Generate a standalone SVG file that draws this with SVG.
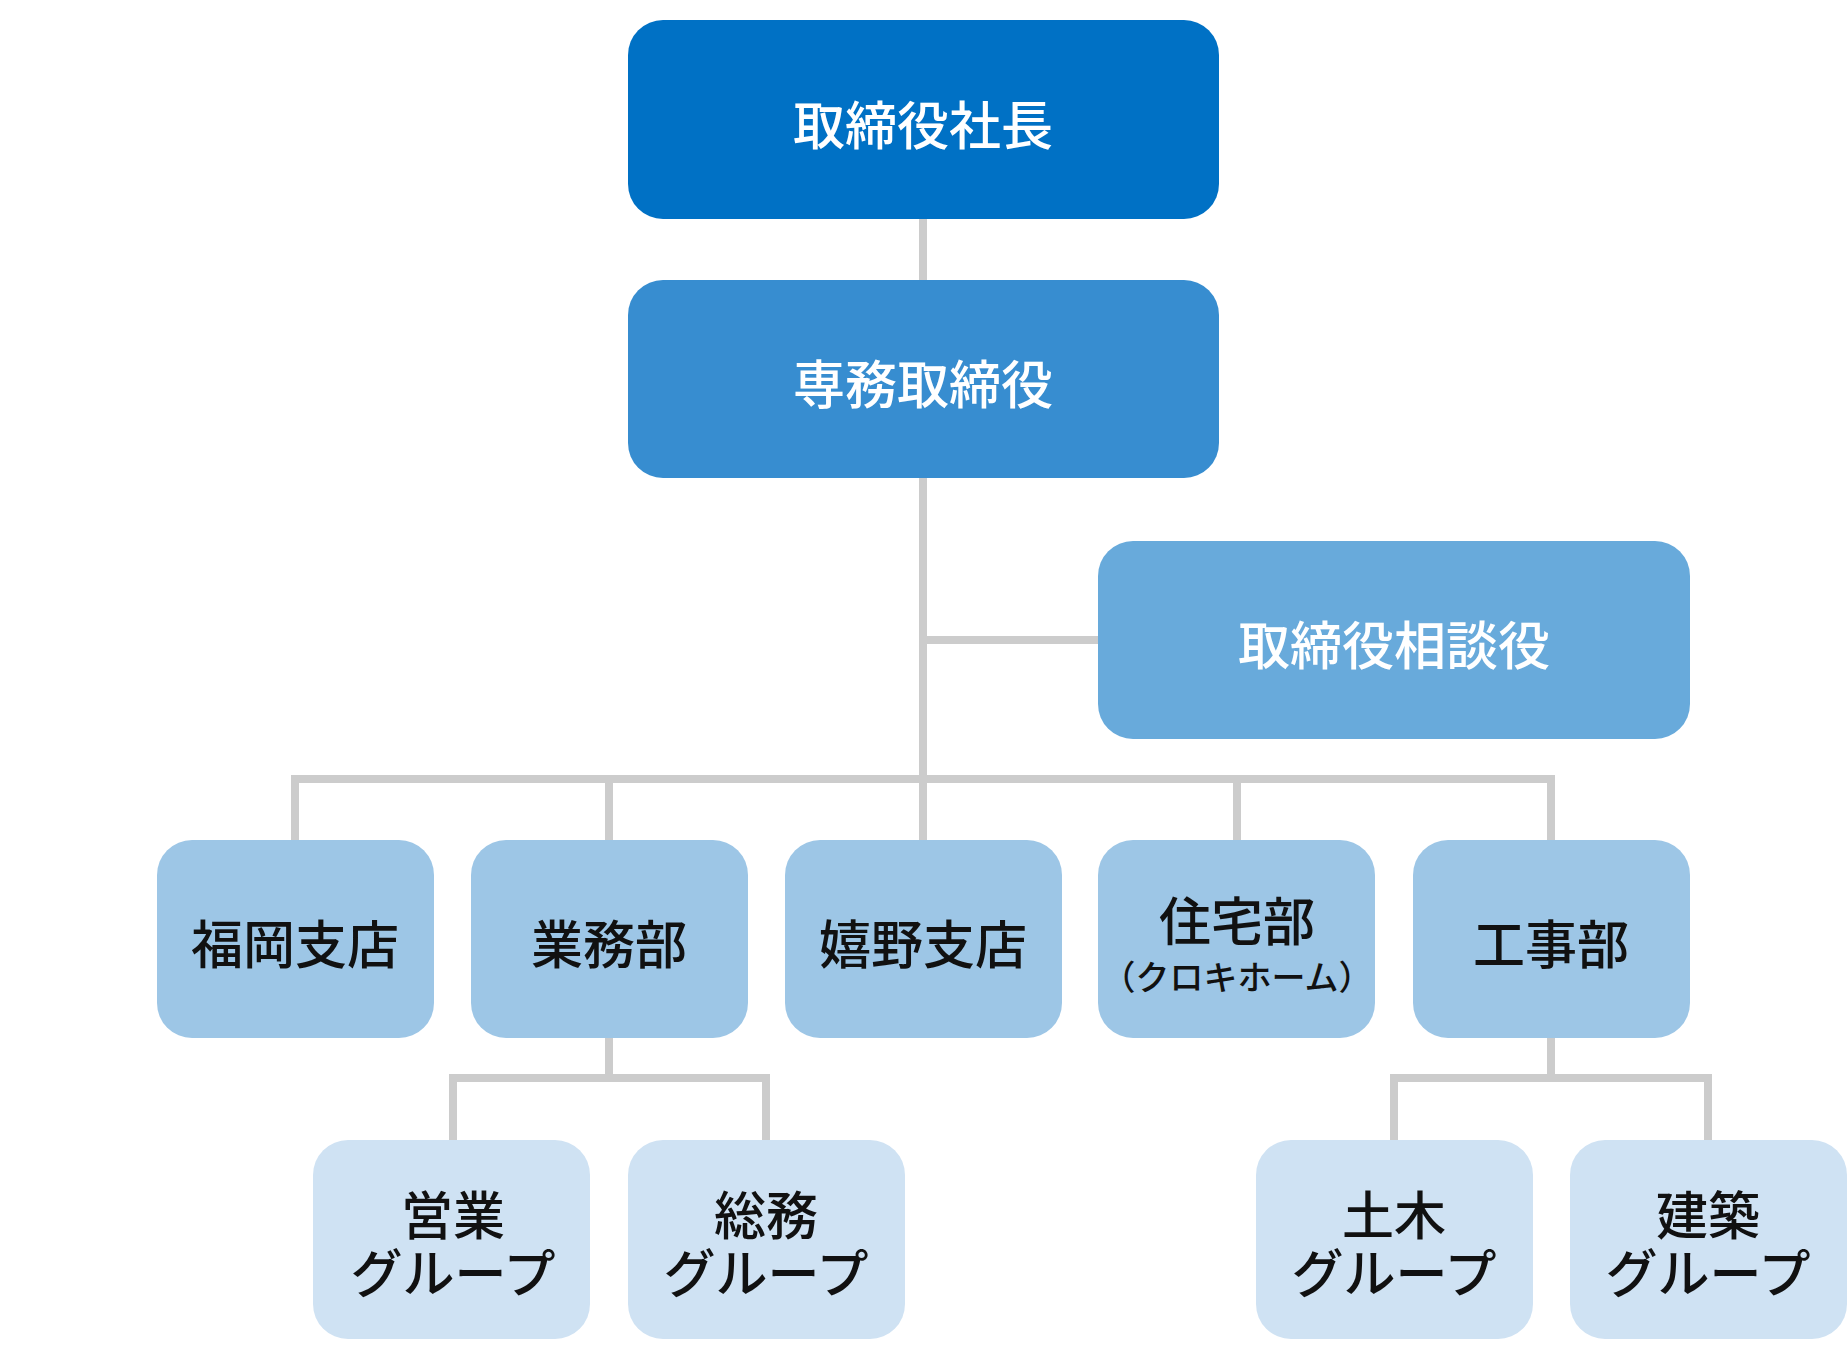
<svg xmlns="http://www.w3.org/2000/svg" width="1848" height="1360" viewBox="0 0 1848 1360">
<style>
text{font-family:"Noto Sans CJK JP","Noto Sans",sans-serif;font-weight:500;text-anchor:middle;dominant-baseline:central}
.w{fill:#fff;font-size:52px}
.b{fill:#111;font-size:52px}
.s{fill:#111;font-size:34px}
.c{stroke:#cccccc;stroke-width:8;fill:none}
</style>
<rect width="1848" height="1360" fill="#fff"/>
<g id="connectors">
<path class="c" d="M923 219V280M923 478V840M923 640H1098M295 840V779H1551V840M609 779V840M1237 779V840M609 1038V1078M453 1140V1078H766V1140M1551 1038V1078M1394 1140V1078H1708V1140"/>
</g>
<g id="n1"><rect x="628" y="20" width="591" height="199" rx="35" fill="#0071C5"/><text class="w" x="923" y="122">取締役社長</text></g>
<g id="n2"><rect x="628" y="280" width="591" height="198" rx="35" fill="#378DD0"/><text class="w" x="923" y="381">専務取締役</text></g>
<g id="n3"><rect x="1098" y="541" width="592" height="198" rx="35" fill="#68AADB"/><text class="w" x="1394" y="642">取締役相談役</text></g>
<g id="n4"><rect x="157" y="840" width="277" height="198" rx="35" fill="#9DC6E6"/><text class="b" x="295" y="941">福岡支店</text></g>
<g id="n5"><rect x="471" y="840" width="277" height="198" rx="35" fill="#9DC6E6"/><text class="b" x="609" y="941">業務部</text></g>
<g id="n6"><rect x="785" y="840" width="277" height="198" rx="35" fill="#9DC6E6"/><text class="b" x="923" y="941">嬉野支店</text></g>
<g id="n7"><rect x="1098" y="840" width="277" height="198" rx="35" fill="#9DC6E6"/><text class="b" x="1237" y="918">住宅部</text><text class="s" x="1237" y="975">（クロキホーム）</text></g>
<g id="n8"><rect x="1413" y="840" width="277" height="198" rx="35" fill="#9DC6E6"/><text class="b" x="1551" y="941">工事部</text></g>
<g id="n9"><rect x="313" y="1140" width="277" height="199" rx="35" fill="#CFE2F3"/><text class="b" x="453" y="1212">営業</text><text class="b" x="453" y="1270">グループ</text></g>
<g id="n10"><rect x="628" y="1140" width="277" height="199" rx="35" fill="#CFE2F3"/><text class="b" x="766" y="1212">総務</text><text class="b" x="766" y="1270">グループ</text></g>
<g id="n11"><rect x="1256" y="1140" width="277" height="199" rx="35" fill="#CFE2F3"/><text class="b" x="1394" y="1212">土木</text><text class="b" x="1394" y="1270">グループ</text></g>
<g id="n12"><rect x="1570" y="1140" width="277" height="199" rx="35" fill="#CFE2F3"/><text class="b" x="1708" y="1212">建築</text><text class="b" x="1708" y="1270">グループ</text></g>
</svg>
